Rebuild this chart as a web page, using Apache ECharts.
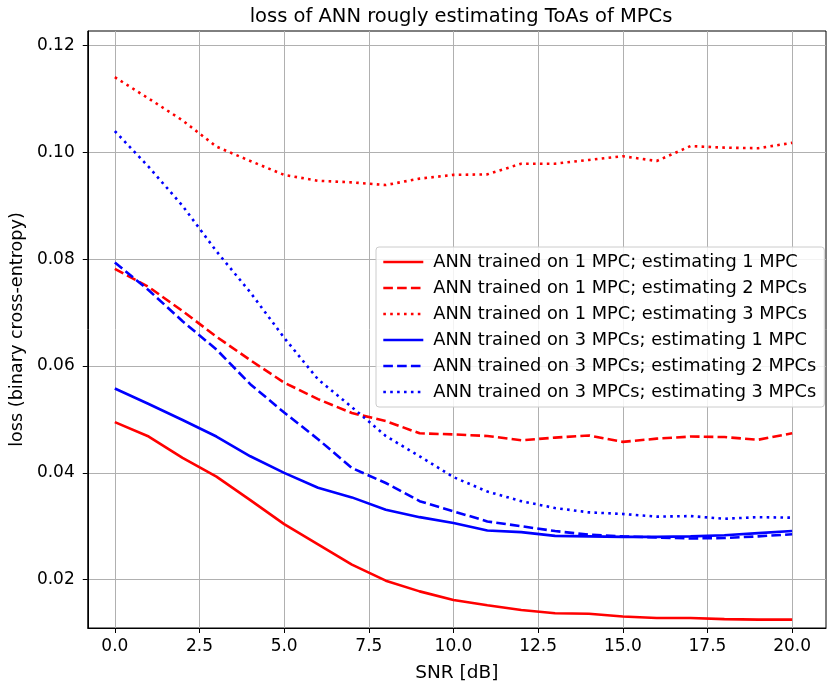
<!DOCTYPE html>
<html>
<head>
<meta charset="utf-8">
<script src="https://cdn.jsdelivr.net/npm/echarts@6/dist/echarts.min.js"></script>
<style>
html,body{margin:0;padding:0;background:#fff;}
#c{width:827px;height:688px;}
</style>
</head>
<body>
<div id="c"></div>
<script>
const snr = [0,1,2,3,4,5,6,7,8,9,10,11,12,13,14,15,16,17,18,19,20];
const xTicks = [0,2.5,5,7.5,10,12.5,15,17.5,20];
const yTicks = [0.02,0.04,0.06,0.08,0.10,0.12];

const names = [
  'ANN trained on 1 MPC; estimating 1 MPC',
  'ANN trained on 1 MPC; estimating 2 MPCs',
  'ANN trained on 1 MPC; estimating 3 MPCs',
  'ANN trained on 3 MPCs; estimating 1 MPC',
  'ANN trained on 3 MPCs; estimating 2 MPCs',
  'ANN trained on 3 MPCs; estimating 3 MPCs'
];

const t1e1 = [0.0495,0.0468,0.0428,0.0393,0.0349,0.0304,0.0266,0.0228,0.0198,0.0178,0.0162,0.0152,0.0143,0.0137,0.0136,0.0131,0.0128,0.0128,0.0126,0.0125,0.0125];
const t1e2 = [0.0782,0.0748,0.0703,0.0655,0.0611,0.0569,0.0538,0.0512,0.0497,0.0474,0.0472,0.0469,0.0461,0.0466,0.0470,0.0458,0.0464,0.0468,0.0467,0.0462,0.0474];
const t1e3 = [0.1141,0.1101,0.1060,0.1011,0.0984,0.0958,0.0947,0.0944,0.0939,0.0951,0.0958,0.0959,0.0979,0.0979,0.0986,0.0993,0.0984,0.1012,0.1009,0.1008,0.1018];
const t3e1 = [0.0558,0.0529,0.0499,0.0468,0.0431,0.0400,0.0372,0.0354,0.0331,0.0317,0.0306,0.0292,0.0289,0.0282,0.0281,0.0280,0.0280,0.0281,0.0283,0.0287,0.0291];
const t3e2 = [0.0794,0.0742,0.0684,0.0631,0.0566,0.0513,0.0463,0.0409,0.0381,0.0347,0.0328,0.0309,0.0300,0.0291,0.0284,0.0281,0.0279,0.0277,0.0278,0.0281,0.0285];
const t3e3 = [0.1040,0.0973,0.0900,0.0815,0.0738,0.0653,0.0575,0.0523,0.0469,0.0431,0.0392,0.0365,0.0347,0.0334,0.0326,0.0323,0.0318,0.0319,0.0314,0.0317,0.0316];

const seriesData = [t1e1,t1e2,t1e3,t3e1,t3e2,t3e3];
const colors = ['#ff0000','#ff0000','#ff0000','#0000ff','#0000ff','#0000ff'];
const lw = 2.6;
const dash = [9.6, 4.2];
const dot = [2.6, 4.3];
const styles = ['solid',dash,dot,'solid',dash,dot];

const FONT = 'DejaVu Sans';
const chart = echarts.init(document.getElementById('c'), null, {renderer:'canvas'});

const series = seriesData.map((d,i)=>({
  name: names[i],
  type: 'line',
  data: snr.map((x,j)=>[x,d[j]]),
  showSymbol: false,
  symbol: 'none',
  smooth: false,
  color: colors[i],
  lineStyle: {color: colors[i], width: lw, type: styles[i], cap: 'butt'},
  emphasis: {disabled: true},
  animation: false
}));

chart.setOption({
  animation: false,
  backgroundColor: '#fff',
  title: {
    text: 'loss of ANN rougly estimating ToAs of MPCs',
    left: 456, top: 2, textAlign: 'center',
    textStyle: {fontFamily: FONT, fontSize: 19.5, fontWeight: 'normal', color: '#000'}
  },
  legend: {
    orient: 'vertical',
    left: 376, top: 247,
    itemWidth: 40, itemHeight: 14, itemGap: 8,
    padding: [6, 8, 6, 6],
    backgroundColor: 'rgba(255,255,255,0.85)',
    borderColor: '#cccccc', borderWidth: 1, borderRadius: 3,
    lineStyle: {width: lw},
    itemStyle: {color: 'rgba(0,0,0,0)', borderWidth: 0, opacity: 0},
    textStyle: {fontFamily: FONT, fontSize: 17.8, lineHeight: 18, color: '#000', padding: [0,0,0,5]},
    data: names
  },
  grid: {left: 87, right: 1, top: 31, bottom: 59, show: true, borderColor: '#000', borderWidth: 1, containLabel: false},
  xAxis: {
    type: 'value', min: -0.8, max: 21,
    name: 'SNR [dB]', nameLocation: 'middle', nameGap: 36,
    nameTextStyle: {fontFamily: FONT, fontSize: 18.5, color: '#000'},
    axisLine: {show: true, onZero: false, lineStyle: {color: '#000', width: 1}},
    axisTick: {show: true, length: 5, lineStyle: {color: '#000'}, customValues: xTicks},
    axisLabel: {customValues: xTicks, fontFamily: FONT, fontSize: 17, color: '#000', margin: 10,
      formatter: v => v.toFixed(1)},
    splitLine: {show: true, lineStyle: {color: '#b0b0b0', width: 1}}
  },
  yAxis: {
    type: 'value', min: 0.01094, max: 0.12275,
    name: 'loss (binary cross-entropy)', nameLocation: 'middle', nameGap: 60,
    nameTextStyle: {fontFamily: FONT, fontSize: 17.6, color: '#000'},
    axisLine: {show: true, onZero: false, lineStyle: {color: '#000', width: 1}},
    axisTick: {show: true, length: 5, lineStyle: {color: '#000'}, customValues: yTicks},
    axisLabel: {customValues: yTicks, fontFamily: FONT, fontSize: 17, color: '#000', margin: 13,
      formatter: v => v.toFixed(2)},
    splitLine: {show: true, lineStyle: {color: '#b0b0b0', width: 1}}
  },
  series: series
});
</script>
</body>
</html>
